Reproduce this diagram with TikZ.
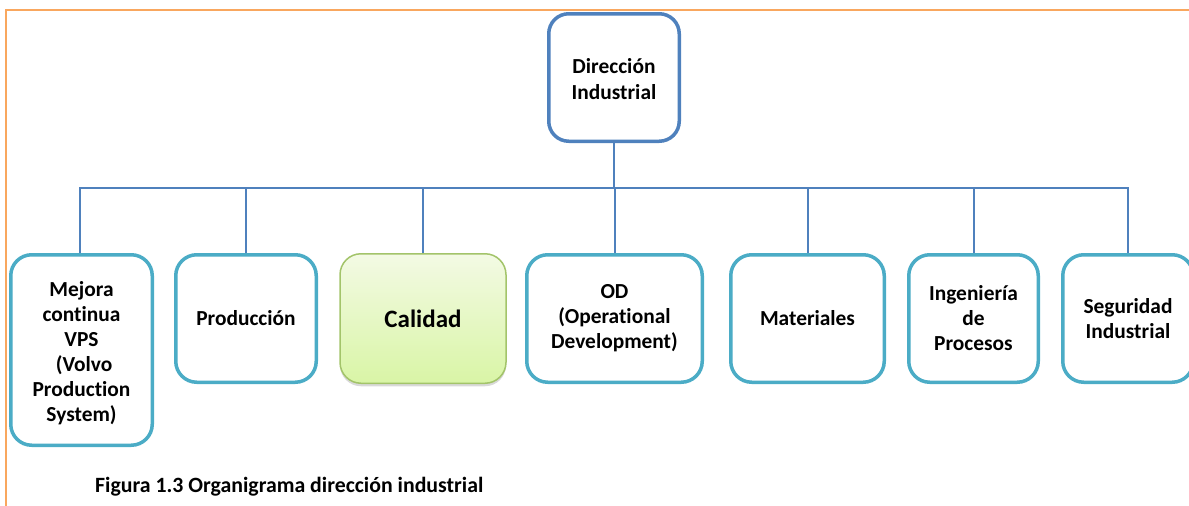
\documentclass[tikz,border=0pt]{standalone}
\usepackage{fontspec}
\setmainfont{Carlito}[Ligatures=NoCommon]
\usetikzlibrary{shadows}
\definecolor{framecol}{HTML}{F9A75E}
\definecolor{linkblue}{HTML}{4F81BD}
\definecolor{teal}{HTML}{4BACC6}
\definecolor{qgreen}{HTML}{A3C46A}
\definecolor{qtop}{HTML}{F3FAE4}
\definecolor{qbot}{HTML}{D9F5A6}
\begin{document}
\begin{tikzpicture}[x=1pt,y=-1pt,
  unit/.style={draw=teal, line width=3.5pt, rounded corners=21pt, fill=white,
    align=center, inner sep=0pt, minimum height=127.5pt,
    font=\fontsize{21.4}{25}\selectfont\bfseries},
  head/.style={draw=linkblue, line width=3.5pt, rounded corners=20pt, fill=white,
    align=center, inner sep=0pt, minimum width=130.5pt, minimum height=127.5pt,
    font=\fontsize{21.4}{26.5}\selectfont\bfseries},
  conn/.style={draw=linkblue, line width=2pt},
  frame/.style={draw=framecol, line width=1.8pt}]
\useasboundingbox (0,0) rectangle (1189,506);

% page frame
\draw[frame] (6,506) -- (6,10) -- (1189,10);

% head of the department
\node[head] (dir) at (614,77.5) {};
\node[align=center, inner sep=0pt, font=\fontsize{21.4}{26.5}\selectfont\bfseries]
  (dirtxt) at (614,79) {Dirección\\Industrial};

% departments
\node[unit, minimum width=141.5pt, minimum height=190.5pt] (m1) at (81.5,350)
  {};
\node[align=center, inner sep=0pt, font=\fontsize{21.4}{25}\selectfont\bfseries]
  (m1txt) at (81.5,353)
  {Mejora\\continua\\VPS\\\hphantom{i}(Volvo\\Production\\System)};
\node[unit, minimum width=140.5pt] (m2) at (246,318.5) {Producción};
\node[unit, draw=qgreen, line width=1.5pt, minimum width=166pt, minimum height=129.5pt,
  top color=qtop, bottom color=qbot,
  drop shadow={shadow xshift=0pt, shadow yshift=-3pt, opacity=0.3, fill=gray},
  font=\fontsize{25}{28}\selectfont\bfseries] (m3) at (423,318.5) {Calidad};
\node[unit, minimum width=175.5pt] (m4) at (614.5,318.5) {OD\\(Operational\\Development)};
\node[unit, minimum width=153.5pt] (m5) at (807.5,318.5) {Materiales};
\node[unit, minimum width=129.5pt] (m6) at (973.5,318.5) {Ingeniería\\de\\Procesos};
\node[unit, minimum width=130.5pt] (m7) at (1128,318.5) {Seguridad\\Industrial};

% connectors
\coordinate (bus) at (0,188);
\draw[conn] (dir.south) -- (dir.south |- bus);
\draw[conn] ([xshift=-1.5pt]m1.north) |- (bus -| m7.north) -- (m7.north);
\foreach \n in {m2,m3,m4,m5,m6}
  \draw[conn] (\n.north) -- (\n.north |- bus);

% caption
\node[anchor=west, inner sep=0pt, font=\fontsize{21.8}{24}\selectfont\bfseries] (cap)
  at (95,487) {Figura 1.3 Organigrama dirección industrial};
\end{tikzpicture}
\end{document}
